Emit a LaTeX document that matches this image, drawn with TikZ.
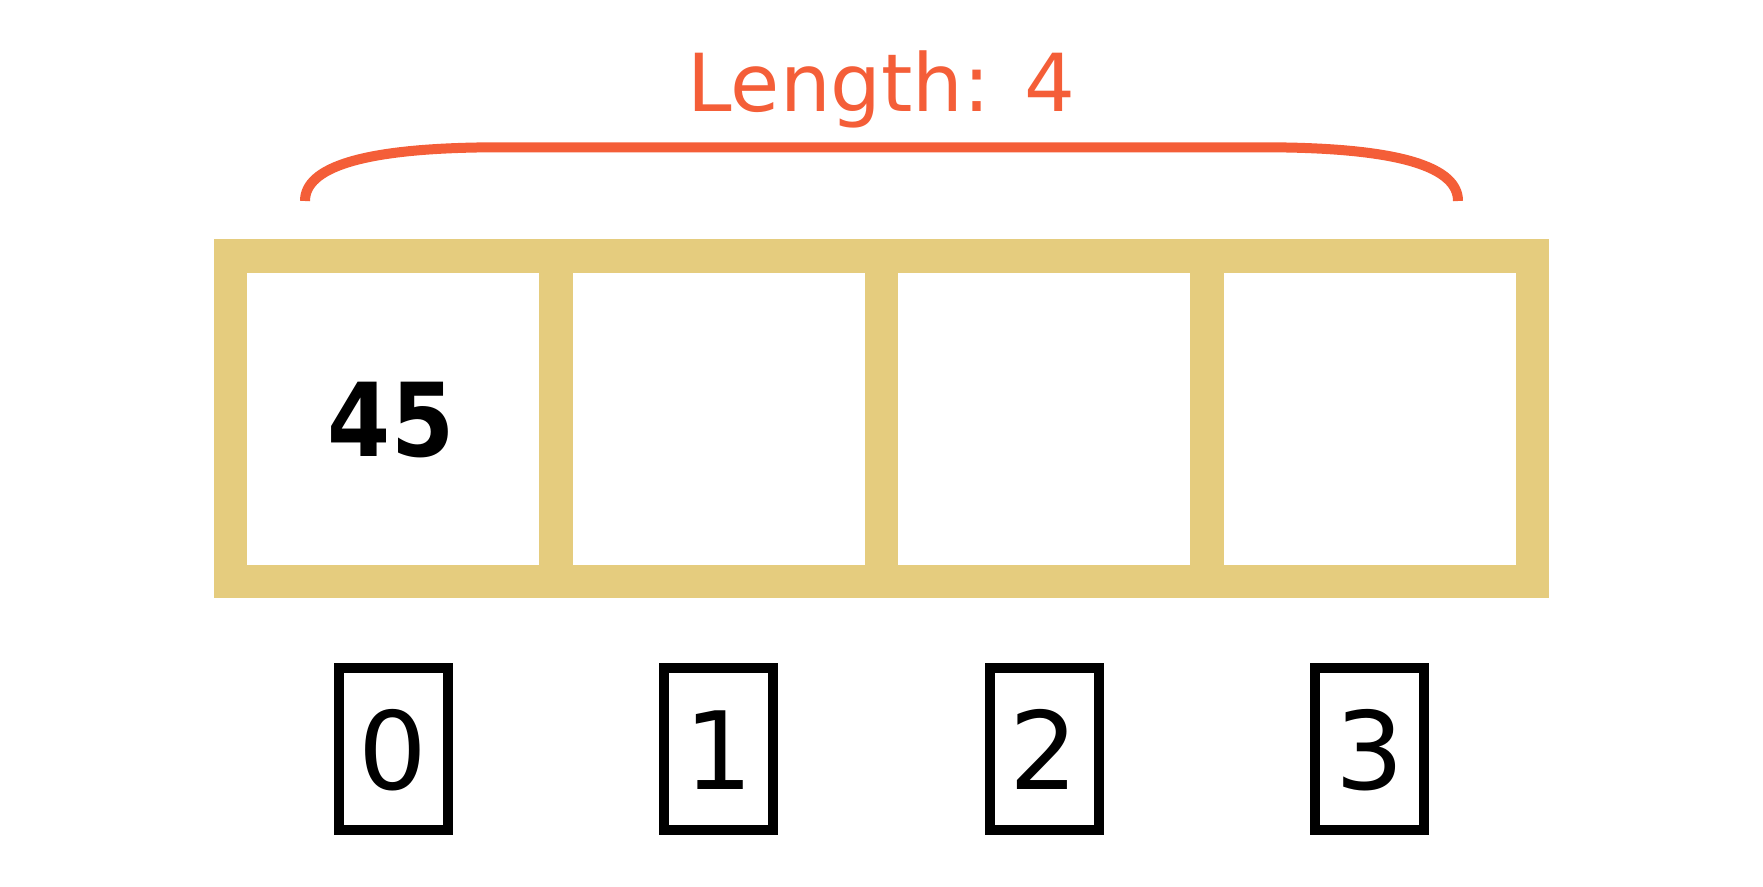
\documentclass[tikz,border=0pt]{standalone}
\usepackage{fontspec}
\usepackage{graphicx}
\setmainfont{DejaVu Sans}
\definecolor{lenorange}{RGB}{244,94,56}
\definecolor{cellgold}{RGB}{229,204,126}
\tikzset{
  cell/.style={draw=cellgold, line width=16.85pt},
  idxbox/.style={draw=black, line width=5pt},
  lenbrace/.style={draw=lenorange, line width=5pt},
  idxtext/.style={anchor=base, inner sep=0pt, font=\fontsize{54}{60}\selectfont},
}
\begin{document}
\begin{tikzpicture}[x=0.5pt,y=0.5pt,yscale=-1,xscale=1]
\useasboundingbox (0,0) rectangle (1763,887);

%Shape: Rectangle [cell 0]
\draw [cell] (230.4,256.3) rectangle (555.9,581.4);
%Shape: Rectangle [cell 1]
\draw [cell] (555.9,256.3) rectangle (881.4,581.4);
%Shape: Rectangle [cell 2]
\draw [cell] (881.4,256.3) rectangle (1206.9,581.4);
%Shape: Rectangle [cell 3]
\draw [cell] (1206.9,256.3) rectangle (1532.4,581.4);

%Shape: Rectangle [index 0]
\draw [idxbox] (338.8,667.7) rectangle (447.5,830.3);
%Shape: Rectangle [index 1]
\draw [idxbox] (664.3,667.7) rectangle (773,830.3);
%Shape: Rectangle [index 2]
\draw [idxbox] (989.8,667.7) rectangle (1098.5,830.3);
%Shape: Rectangle [index 3]
\draw [idxbox] (1315.3,667.7) rectangle (1424,830.3);

%Curve Lines [brace]
\draw [lenbrace] (305,201) .. controls (305,168) and (360,147.3) .. (500,147.3) -- (1263,147.3) .. controls (1403,147.3) and (1458,168) .. (1458,201);

% Text Node
\node (lenlabel) [anchor=base, inner sep=0pt, text=lenorange, font=\fontsize{40}{48}\selectfont] at (881.5,111.7) {Length: 4};
% Text Node
\node (val0) [anchor=base, inner sep=0pt, font=\fontsize{51}{60}\selectfont\bfseries] at (391,456.5) {\scalebox{0.89}[1]{45}};
% Text Node
\node (idx0) [idxtext] at (393.2,789) {0};
% Text Node
\node (idx1) [idxtext] at (718.7,789) {1};
% Text Node
\node (idx2) [idxtext] at (1044.2,789) {2};
% Text Node
\node (idx3) [idxtext] at (1369.7,789) {3};
\end{tikzpicture}
\end{document}
